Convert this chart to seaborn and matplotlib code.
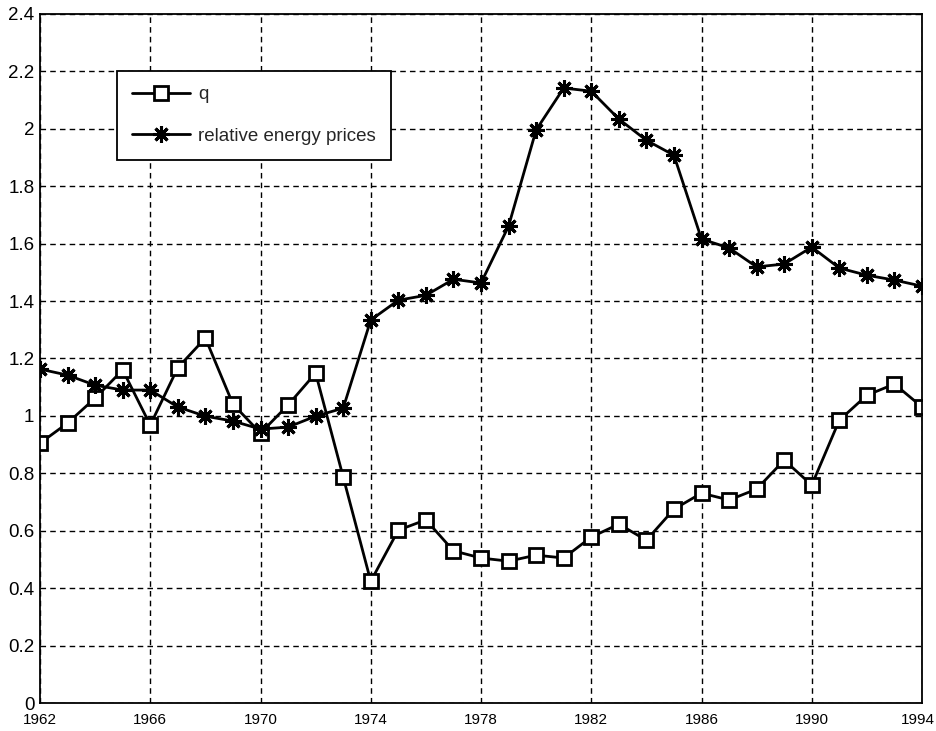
import numpy as np
import pandas as pd
import matplotlib
matplotlib.use("Agg")
import matplotlib.pyplot as plt
import matplotlib.transforms as mtransforms
import seaborn as sns

# Data
years = list(range(1962, 1995))
q = [0.905, 0.975, 1.062, 1.16, 0.968, 1.168, 1.271, 1.041, 0.94, 1.038, 1.149,
     0.787, 0.424, 0.602, 0.638, 0.53, 0.505, 0.494, 0.515, 0.505, 0.578, 0.623,
     0.567, 0.675, 0.731, 0.707, 0.745, 0.846, 0.759, 0.985, 1.072, 1.111, 1.031]
energy = [1.163, 1.142, 1.107, 1.09, 1.09, 1.031, 0.999, 0.982, 0.954, 0.961, 0.999,
          1.027, 1.334, 1.403, 1.42, 1.476, 1.463, 1.661, 1.996, 2.142, 2.131, 2.034,
          1.96, 1.908, 1.616, 1.585, 1.519, 1.529, 1.588, 1.515, 1.49, 1.473, 1.452]

df = pd.DataFrame({"year": years, "q": q, "energy": energy})

sns.set_style("white")
plt.rcParams['font.family'] = ['Liberation Sans', 'DejaVu Sans']

fig = plt.figure(figsize=(9.37, 7.31), dpi=100)
ax = fig.add_axes([0.0427, 0.0383, 0.9413, 0.9426])

sns.lineplot(data=df, x="year", y="q", ax=ax, color="black", linewidth=2,
             marker="s", markersize=10.5, markerfacecolor="white",
             markeredgecolor="black", markeredgewidth=2, label="q")
sns.lineplot(data=df, x="year", y="energy", ax=ax, color="black", linewidth=2,
             marker=(8, 2, 0), markersize=12, markeredgecolor="black",
             markeredgewidth=2.2, label="relative energy prices")

ax.set_xlim(1962, 1994)
ax.set_ylim(0, 2.4)
ax.set_xticks(range(1962, 1995, 4))
ax.set_yticks(np.arange(0, 2.41, 0.2))
ax.set_yticklabels(["0", "0.2", "0.4", "0.6", "0.8", "1", "1.2", "1.4", "1.6",
                    "1.8", "2", "2.2", "2.4"])
ax.set_xlabel("")
ax.set_ylabel("")
ax.grid(True, color="black", linestyle=(0, (4, 3)), linewidth=1.0)
ax.tick_params(direction="in", length=5, width=1, colors="black", pad=4)
ax.tick_params(axis="y", labelsize=13.5)
ax.tick_params(axis="x", labelsize=11, pad=7)
for s in ax.spines.values():
    s.set_color("black")
    s.set_linewidth(1.3)

# keep the last year label inside the canvas
last = ax.get_xticklabels()[-1]
last.set_transform(last.get_transform() +
                   mtransforms.ScaledTranslation(-4 / 100, 0, fig.dpi_scale_trans))

leg = ax.legend(loc="upper left", bbox_to_anchor=(0.087, 0.917), fontsize=13.5,
                frameon=True, fancybox=False, edgecolor="black", framealpha=1,
                borderpad=0.8, labelspacing=1.3, handlelength=3.1,
                handletextpad=0.45, borderaxespad=0)
leg.get_frame().set_linewidth(1.3)

fig.savefig("out.png", dpi=100)
